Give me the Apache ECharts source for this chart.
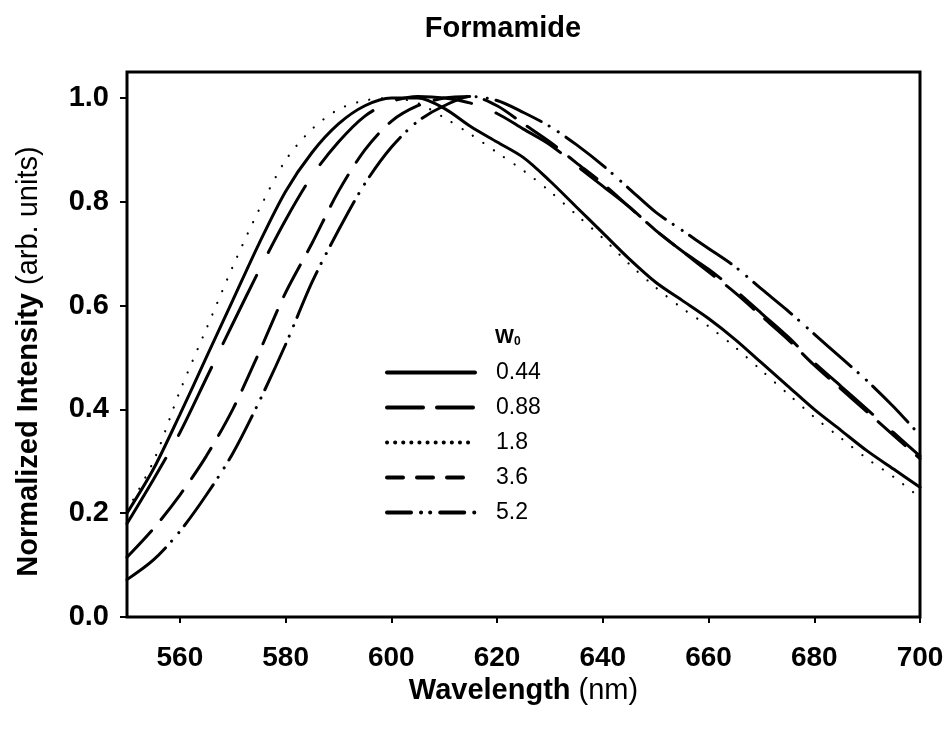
<!DOCTYPE html>
<html>
<head>
<meta charset="utf-8">
<script src="https://cdn.jsdelivr.net/npm/echarts@6/dist/echarts.min.js"></script>
<style>
html, body { margin: 0; background: #fff; }
#chart { width: 948px; height: 731px; }
</style>
</head>
<body>
<div id="chart"></div>
<script>
// wavelength grid (nm) and normalized intensities
var wavelength = [550, 555, 560, 565, 570, 575, 580, 585, 590, 595, 600, 605, 610, 615, 620, 625,
    630, 635, 640, 645, 650, 655, 660, 665, 670, 675, 680, 685, 690, 695, 700];
var w044 = [0.20, 0.285, 0.39, 0.50, 0.61, 0.72, 0.82, 0.895, 0.95, 0.985, 1.0, 1.0, 0.98, 0.945, 0.915, 0.885,
    0.84, 0.79, 0.74, 0.69, 0.645, 0.61, 0.575, 0.535, 0.49, 0.445, 0.40, 0.36, 0.32, 0.285, 0.25];
var w088 = [0.18, 0.265, 0.355, 0.46, 0.565, 0.668, 0.765, 0.85, 0.915, 0.965, 0.993, 1.003, 1.0, 0.99, 0.97, 0.94,
    0.91, 0.87, 0.83, 0.79, 0.745, 0.705, 0.67, 0.63, 0.585, 0.54, 0.49, 0.445, 0.40, 0.355, 0.31];
var w18 = [0.205, 0.30, 0.435, 0.555, 0.675, 0.785, 0.88, 0.94, 0.978, 0.995, 1.0, 0.99, 0.962, 0.93, 0.895, 0.86,
    0.82, 0.775, 0.73, 0.68, 0.635, 0.595, 0.56, 0.52, 0.475, 0.43, 0.385, 0.345, 0.305, 0.27, 0.23];
var w36 = [0.115, 0.17, 0.235, 0.31, 0.40, 0.51, 0.625, 0.72, 0.82, 0.90, 0.955, 0.985, 1.0, 1.003, 0.985, 0.95,
    0.915, 0.875, 0.835, 0.79, 0.745, 0.705, 0.665, 0.625, 0.58, 0.535, 0.485, 0.44, 0.395, 0.35, 0.305];
var w52 = [0.072, 0.11, 0.165, 0.235, 0.315, 0.415, 0.525, 0.645, 0.745, 0.835, 0.905, 0.955, 0.985, 1.003, 0.995, 0.972,
    0.945, 0.91, 0.87, 0.825, 0.78, 0.745, 0.71, 0.675, 0.632, 0.59, 0.545, 0.50, 0.455, 0.405, 0.35];
var seriesNames = ['0.44', '0.88', '1.8', '3.6', '5.2'];
var xTicks = [560, 580, 600, 620, 640, 660, 680, 700];
var yTicks = [0, 0.2, 0.4, 0.6, 0.8, 1.0];

var font = 'Liberation Sans, Arial, sans-serif';

function pairs(ys) {
    return wavelength.map(function (x, i) { return [x, ys[i]]; });
}

// dash patterns: [plot, legend]
var dashes = [
    ['solid', 'solid'],
    [[76, 26], [36, 14]],
    [[0.1, 12.5], [0.1, 8]],
    [[36, 15], [16, 14]],
    [[50, 9, 0.1, 11, 0.1, 9], [24, 10, 0.1, 9, 0.1, 10]]
];
var widths = [3, 3, 2.2, 3, 3];

var chart = echarts.init(document.getElementById('chart'));

var option = {
    backgroundColor: '#fff',
    animation: false,
    title: {
        text: 'Formamide',
        left: 498,
        top: 9,
        textAlign: 'center',
        textStyle: { fontFamily: font, fontWeight: 'bold', fontSize: 29, color: '#000' }
    },
    grid: {
        left: 127, right: 28, top: 72, bottom: 114,
        show: true, borderColor: '#000', borderWidth: 3
    },
    legend: {
        orient: 'vertical',
        left: 385,
        top: 361,
        padding: 0,
        itemWidth: 88,
        itemHeight: 10,
        itemGap: 12,
        selectedMode: false,
        textStyle: { fontFamily: font, fontSize: 23, color: '#000', padding: [0, 0, 0, 16] },
        data: seriesNames.map(function (n, i) {
            return {
                name: n,
                itemStyle: { opacity: 0 },
                lineStyle: { type: dashes[i][1], width: 4, cap: 'round' }
            };
        })
    },
    graphic: [{
        type: 'text',
        left: 495,
        top: 327,
        style: {
            text: '{a|W}{b|0}',
            rich: {
                a: { fontFamily: font, fontWeight: 'bold', fontSize: 20, fill: '#000' },
                b: { fontFamily: font, fontWeight: 'bold', fontSize: 12, fill: '#000', padding: [10, 0, 0, 0] }
            }
        }
    }],
    xAxis: {
        type: 'value',
        min: 550, max: 700,
        name: '{b|Wavelength }{n|(nm)}',
        nameLocation: 'middle',
        nameGap: 57,
        nameTextStyle: {
            rich: {
                b: { fontFamily: font, fontWeight: 'bold', fontSize: 29, color: '#000' },
                n: { fontFamily: font, fontSize: 29, color: '#000' }
            }
        },
        axisLine: { show: false },
        axisTick: { show: true, length: 6, customValues: xTicks, lineStyle: { color: '#000', width: 2 } },
        axisLabel: {
            customValues: xTicks, margin: 27,
            fontFamily: font, fontWeight: 'bold', fontSize: 28, color: '#000'
        },
        splitLine: { show: false }
    },
    yAxis: {
        type: 'value',
        min: 0, max: 1.05,
        name: '{b|Normalized Intensity }{n|(arb. units)}',
        nameLocation: 'middle',
        nameGap: 84,
        nameTextStyle: {
            padding: [0, 34, 0, 0],
            rich: {
                b: { fontFamily: font, fontWeight: 'bold', fontSize: 29, color: '#000' },
                n: { fontFamily: font, fontSize: 29, color: '#000' }
            }
        },
        axisLine: { show: false },
        axisTick: { show: true, length: 7, customValues: yTicks, lineStyle: { color: '#000', width: 2 } },
        axisLabel: {
            customValues: yTicks, margin: 18,
            fontFamily: font, fontWeight: 'bold', fontSize: 29, color: '#000',
            formatter: function (v) { return v.toFixed(1); }
        },
        splitLine: { show: false }
    },
    series: [w044, w088, w18, w36, w52].map(function (ys, i) {
        return {
            name: seriesNames[i],
            type: 'line',
            data: pairs(ys),
            smooth: 0.3,
            symbol: 'none',
            color: '#000',
            lineStyle: { color: '#000', width: widths[i], type: dashes[i][0], cap: 'round' }
        };
    })
};

chart.setOption(option);
</script>
</body>
</html>
